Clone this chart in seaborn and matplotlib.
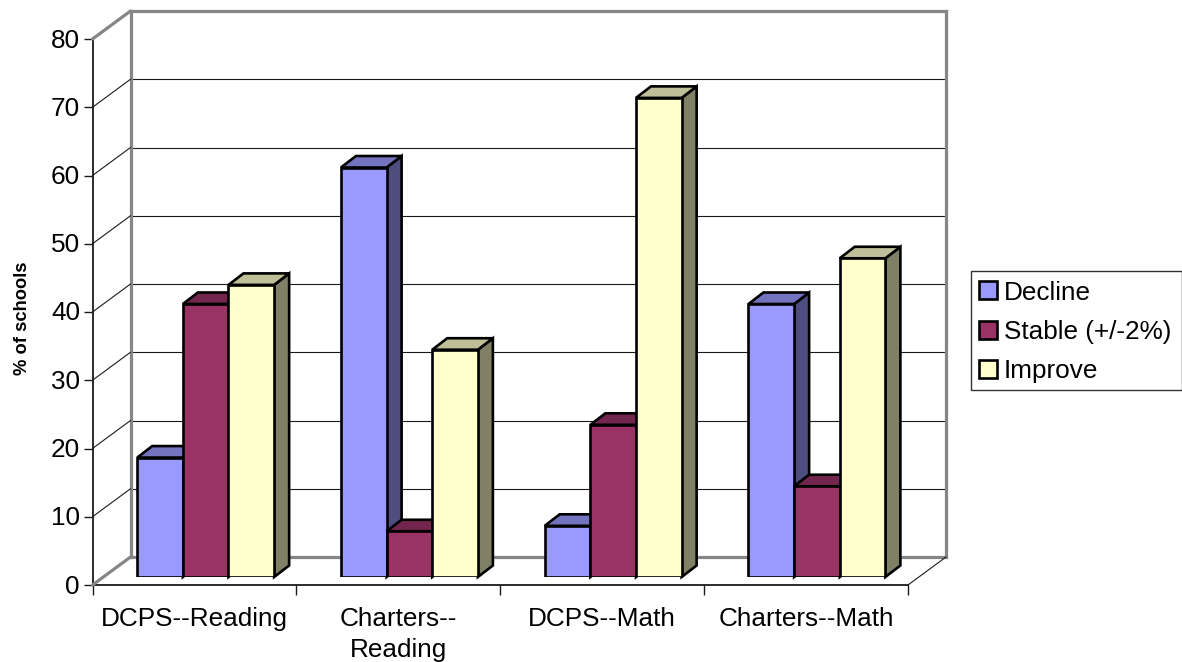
import matplotlib
matplotlib.use("Agg")
import matplotlib.pyplot as plt
import pandas as pd
import seaborn as sns
from matplotlib.lines import Line2D
from matplotlib.patches import Polygon, Rectangle
from matplotlib.transforms import IdentityTransform, ScaledTranslation
from matplotlib.colors import to_rgb

categories = ["DCPS--Reading", "Charters--\nReading", "DCPS--Math", "Charters--Math"]
decline = [17.5, 60.0, 7.5, 40.0]
stable = [40.0, 6.7, 22.3, 13.3]
improve = [42.8, 33.3, 70.2, 46.7]
series_names = ["Decline", "Stable (+/-2%)", "Improve"]
colors = ["#9999FF", "#993366", "#FFFFCC"]
y_ticks = [0, 10, 20, 30, 40, 50, 60, 70, 80]

W, H = 1182, 662
FS = 18.8
sns.set_theme(style="white")
plt.rcParams["font.family"] = ["Liberation Sans", "DejaVu Sans"]
fig = plt.figure(figsize=(W / 100, H / 100), dpi=100, facecolor="white")


def px_axes(x0, x1, y_top, y_bottom, **kw):
    return fig.add_axes([x0 / W, 1 - y_bottom / H, (x1 - x0) / W, (y_bottom - y_top) / H], **kw)


WALL = "#868686"
DARK = "#1a1a1a"
BAR_LW = 1.9

# back wall
back = px_axes(130.5, 946, 11, 557)
back.set_xlim(0, 1)
back.set_ylim(0, 80)
back.set_xticks([])
back.set_yticks(y_ticks)
back.tick_params(left=False, labelleft=False)
back.grid(axis="y", color=DARK, lw=0.8)
back.set_axisbelow(True)
for s in back.spines.values():
    s.set_color(WALL)
    s.set_linewidth(2.3)

# front frame: value axis and category axis
front = px_axes(92.5, 908, 39, 585)
front.patch.set_alpha(0)
front.set_xlim(0, 4)
front.set_ylim(0, 80)
front.set_yticks(y_ticks)
front.set_xticks(range(5))
front.set_xticklabels([])
front.set_xticks([i + 0.5 for i in range(4)], minor=True)
front.set_xticklabels(categories, minor=True, fontsize=FS, color="black", linespacing=1.37)
front.tick_params(axis="x", which="major", length=7.5, width=1.0, color=DARK, bottom=True)
front.tick_params(axis="x", which="minor", length=0, pad=15.5)
front.tick_params(axis="y", length=6.5, width=1.0, color=DARK, left=True, labelsize=FS, labelcolor="black", pad=2.5)
for lab in front.get_yticklabels():
    lab.set_transform(lab.get_transform() + ScaledTranslation(0, 1 / 100, fig.dpi_scale_trans))
for name in ("top", "right"):
    front.spines[name].set_visible(False)
for name in ("left", "bottom"):
    front.spines[name].set_color(DARK)
    front.spines[name].set_linewidth(1.3)
front.set_ylabel("% of schools", fontsize=13.2, fontweight="bold", color="black")
front.yaxis.set_label_coords(31 / W, 1 - 318 / H, transform=fig.transFigure)

# diagonals joining value axis and back wall
to_px = IdentityTransform()
for v in y_ticks:
    a = front.transData.transform((0, v))
    b = back.transData.transform((0, v))
    edge = v in (0, 80)
    fig.add_artist(Line2D([a[0], b[0]], [a[1], b[1]], transform=to_px,
                          color=WALL if edge else DARK, lw=2.3 if edge else 0.8, zorder=1.5))
a = front.transData.transform((4, 0))
b = back.transData.transform((1, 0))
fig.add_artist(Line2D([a[0], b[0]], [a[1], b[1]], transform=to_px, color=DARK, lw=0.8, zorder=1.5))

# bars
df = pd.DataFrame({
    "Category": categories * 3,
    "Series": sum([[n] * 4 for n in series_names], []),
    "Value": decline + stable + improve,
})
ax = px_axes(103.8, 918.8, 31, 577)
ax.patch.set_alpha(0)
sns.barplot(data=df, x="Category", y="Value", hue="Series", order=categories, hue_order=series_names,
            palette=colors, width=0.672, gap=0, edgecolor="black", linewidth=BAR_LW, saturation=1, ax=ax)
ax.set_xlim(-0.5, 3.5)
ax.set_ylim(0, 80)
ax.axis("off")

leg = ax.get_legend()
handles = list(leg.legend_handles)
labels = [t.get_text() for t in leg.get_texts()]
leg.remove()

DX, DY = 15, 11.5
bars = sorted([p for p in ax.patches if p.get_height() > 0 and p.get_width() > 0], key=lambda p: p.get_x())
for k, bar in enumerate(bars):
    bar.set_zorder(k * 3 + 13)
    x0, x1 = bar.get_x(), bar.get_x() + bar.get_width()
    h = bar.get_height()
    (l, b0), (r, t) = ax.transData.transform([(x0, 0), (x1, h)])
    base = to_rgb(bar.get_facecolor()[:3])
    top_col = tuple(c * 0.75 for c in base)
    side_col = tuple(c * 0.5 for c in base)
    ax.add_patch(Polygon([(r, b0), (r + DX, b0 + DY), (r + DX, t + DY), (r, t)], closed=True, transform=to_px,
                         facecolor=side_col, edgecolor="black", lw=BAR_LW, zorder=k * 3 + 11, clip_on=False))
    ax.add_patch(Polygon([(l, t), (l + DX, t + DY), (r + DX, t + DY), (r, t)], closed=True, transform=to_px,
                         facecolor=top_col, edgecolor="black", lw=BAR_LW, zorder=k * 3 + 12, clip_on=False))

# legend
fig.add_artist(Rectangle((971 / W, 1 - 390 / H), 210.5 / W, 119 / H, transform=fig.transFigure,
                         facecolor="white", edgecolor="#333333", lw=1.0))
lg = fig.legend(handles, labels, loc="center left", bbox_to_anchor=(971 / W, 1 - 332 / H),
                bbox_transform=fig.transFigure, borderaxespad=0, fontsize=FS, frameon=False,
                labelcolor="black", handlelength=0.68, handleheight=0.68, handletextpad=0.26,
                labelspacing=0.59, borderpad=0.32)
for h in lg.legend_handles:
    h.set_edgecolor("black")
    h.set_linewidth(BAR_LW)

fig.savefig("out.png", dpi=100, facecolor="white")
